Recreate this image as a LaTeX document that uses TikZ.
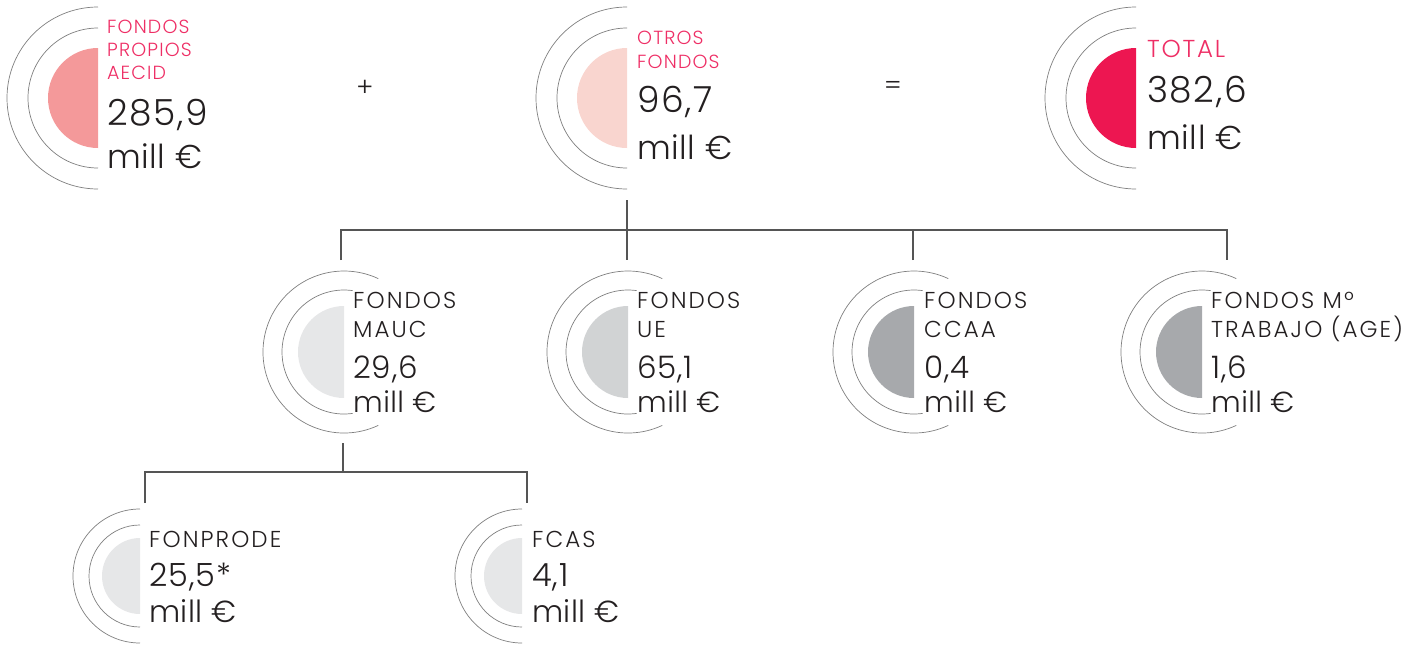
\documentclass[tikz,border=0pt]{standalone}
\usepackage{fontspec}
\setmainfont{Poppins}[UprightFont=* Light]
\usepackage{tikz}
\usetikzlibrary{calc}
\definecolor{aecidfill}{HTML}{F4999A}
\definecolor{otrosfill}{HTML}{F9D5CF}
\definecolor{totalfill}{HTML}{ED1651}
\definecolor{greyA}{HTML}{E6E7E8}
\definecolor{greyB}{HTML}{D1D3D4}
\definecolor{greyC}{HTML}{A7A9AC}
\definecolor{pinktext}{HTML}{EE2E65}
\definecolor{darktext}{HTML}{231F20}
\definecolor{ringgrey}{HTML}{7F7F7F}
\definecolor{linkgrey}{HTML}{555555}
\newcommand\fundfont[3]{\fontsize{#1}{#2}\selectfont\addfontfeatures{LetterSpace=#3}}
\tikzstyle{ring} = [draw=ringgrey, line width=0.7pt]
\tikzstyle{link} = [draw=linkgrey, line width=1.1pt]
\tikzstyle{fundname} = [anchor=north west, inner sep=0pt, align=left, text=darktext]
\tikzstyle{fundnum} = [anchor=base west, inner sep=0pt, text=darktext]
\tikzstyle{sign} = [inner sep=0pt, text=darktext, font=\fontsize{26}{30}\selectfont]

\begin{document}
\begin{tikzpicture}[x=1pt,y=-1pt]
    \useasboundingbox (0,0) rectangle (1427,646);

    % Top row: own funds + other funds = total
    \foreach \name/\cx/\tx/\col/\lab/\lsize/\lskip/\ltrack/\ltop/\num/\nbase/\ubase in {
        aecid/98/107/aecidfill/{FONDOS\\PROPIOS\\AECID}/19/23/6/20/{285,9}/125/168,
        otros/627/637/otrosfill/{OTROS\\FONDOS}/19/24/6/30.5/{96,7}/112/159,
        total/1136/1147/totalfill/{TOTAL}/24.5/28/7/40/{382,6}/102/149}
    {
        \coordinate (\name) at (\cx,98);
        \fill[\col] (\name) ++(90:50) arc[start angle=90, end angle=270, radius=50] -- cycle;
        \draw[ring] (\name) ++(90:70) arc[start angle=90, end angle=270, radius=70];
        \draw[ring] (\name) ++(90:91) arc[start angle=90, end angle=270, radius=91];
        \node[fundname, text=pinktext, font=\fundfont{\lsize}{\lskip}{\ltrack}] (\name-lab) at (\tx,\ltop) {\lab};
        \node[fundnum, font=\fundfont{36}{40}{4.5}] (\name-num) at (\tx,\nbase) {\num};
        \node[fundnum, font=\fundfont{33}{36}{2}] (\name-unit) at (\tx,\ubase) {mill €};
    }
    \node[sign] (plus) at (365,88) {+};
    \node[sign] (equals) at (893,88) {=};

    % Second row: where the other funds come from
    \foreach \name/\cx/\tx/\col/\lab/\num in {
        mauc/344/353/greyA/{FONDOS\\MAUC}/{29,6},
        ue/628/637/greyB/{FONDOS\\UE}/{65,1},
        ccaa/914/924/greyC/{FONDOS\\CCAA}/{0,4},
        trab/1202/1211/greyC/{FONDOS Mº\\TRABAJO (AGE)}/{1,6}}
    {
        \coordinate (\name) at (\cx,352);
        \fill[\col] (\name) ++(90:46) arc[start angle=90, end angle=270, radius=46] -- cycle;
        \draw[ring] (\name) ++(82:62) arc[start angle=82, end angle=278, radius=62];
        \draw[ring] (\name) ++(65:81) arc[start angle=65, end angle=295, radius=81];
        \node[fundname, font=\fundfont{23}{29}{9}] (\name-lab) at (\tx,292) {\lab};
        \node[fundnum, font=\fundfont{31}{36}{3}] (\name-num) at (\tx,378) {\num};
        \node[fundnum, font=\fundfont{29}{32}{1.5}] (\name-unit) at (\tx,412) {mill €};
    }

    % Third row: split of the MAUC funds
    \foreach \name/\cx/\tx/\lab/\num in {
        fonprode/140/149/{FONPRODE}/{25,5*},
        fcas/522/532/{FCAS}/{4,1}}
    {
        \coordinate (\name) at (\cx,576);
        \fill[greyA] (\name) ++(90:38) arc[start angle=90, end angle=270, radius=38] -- cycle;
        \draw[ring] (\name) ++(90:51) arc[start angle=90, end angle=270, radius=51];
        \draw[ring] (\name) ++(90:67) arc[start angle=90, end angle=270, radius=67];
        \node[fundname, font=\fundfont{23}{28}{9}] (\name-lab) at (\tx,531) {\lab};
        \node[fundnum, font=\fundfont{32}{36}{3}] (\name-num) at (\tx,586) {\num};
        \node[fundnum, font=\fundfont{30.5}{34}{1.5}] (\name-unit) at (\tx,622) {mill €};
    }

    % Connectors of the tree
    \coordinate (otros-out) at (627,200);
    \coordinate (mauc-in) at (341,260);
    \coordinate (ue-in) at (627,260);
    \coordinate (ccaa-in) at (913,260);
    \coordinate (trab-in) at (1227,260);
    \coordinate (mauc-out) at (343,443);
    \coordinate (fonprode-in) at (145,503);
    \coordinate (fcas-in) at (527,503);

    \draw[link] (mauc-in) -- ++(0,-30) -| (trab-in);
    \draw[link] (otros-out) -- (ue-in);
    \draw[link] (ccaa-in) -- ++(0,-30);
    \draw[link] (fonprode-in) -- ++(0,-31) -| (fcas-in);
    \draw[link] (mauc-out) -- ++(0,29);
\end{tikzpicture}
\end{document}
